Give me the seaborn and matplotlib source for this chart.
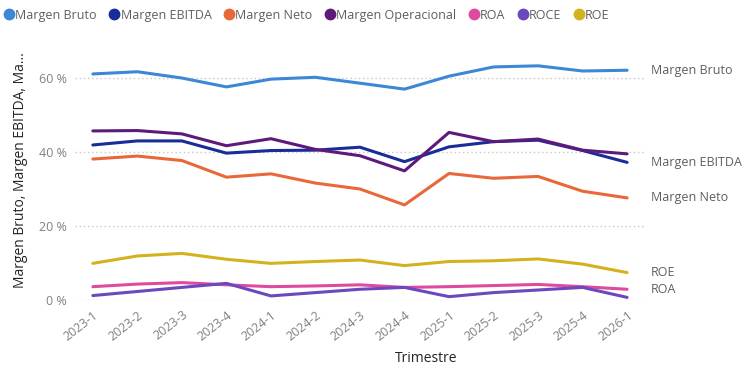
import matplotlib
matplotlib.use("Agg")
import matplotlib.pyplot as plt
from matplotlib.lines import Line2D
import seaborn as sns
import pandas as pd

trimestres = ["2023-1", "2023-2", "2023-3", "2023-4", "2024-1", "2024-2", "2024-3",
              "2024-4", "2025-1", "2025-2", "2025-3", "2025-4", "2026-1"]

margen_bruto = [61.1, 61.7, 60.0, 57.6, 59.7, 60.2, 58.6, 57.0, 60.5, 63.0, 63.3, 61.9, 62.1]
margen_ebitda = [41.9, 43.0, 43.0, 39.7, 40.4, 40.5, 41.3, 37.4, 41.4, 42.8, 43.2, 40.4, 37.2]
margen_neto = [38.1, 38.9, 37.7, 33.2, 34.1, 31.6, 30.0, 25.7, 34.2, 32.9, 33.4, 29.4, 27.6]
margen_operacional = [45.7, 45.8, 44.9, 41.7, 43.6, 40.7, 39.0, 34.9, 45.3, 42.8, 43.5, 40.5, 39.5]
roa = [3.6, 4.3, 4.7, 4.1, 3.6, 3.8, 4.1, 3.4, 3.6, 3.9, 4.2, 3.6, 2.9]
roce = [1.2, 2.3, 3.4, 4.5, 1.1, 2.0, 2.9, 3.4, 0.9, 2.0, 2.7, 3.4, 0.7]
roe = [9.9, 11.9, 12.6, 11.0, 9.9, 10.4, 10.8, 9.3, 10.4, 10.6, 11.1, 9.7, 7.4]

series = {
    "Margen Bruto": margen_bruto,
    "Margen EBITDA": margen_ebitda,
    "Margen Neto": margen_neto,
    "Margen Operacional": margen_operacional,
    "ROA": roa,
    "ROCE": roce,
    "ROE": roe,
}
colores = {
    "Margen Bruto": "#3C87D6",
    "Margen EBITDA": "#1A2C9A",
    "Margen Neto": "#E8683A",
    "Margen Operacional": "#5E1A7A",
    "ROA": "#E04A9E",
    "ROCE": "#6A48BE",
    "ROE": "#D4B21E",
}
etiquetas_finales = ["Margen Bruto", "Margen EBITDA", "Margen Neto", "ROE", "ROA"]

df = pd.DataFrame(
    [(t, nombre, v) for nombre, vals in series.items() for t, v in zip(trimestres, vals)],
    columns=["Trimestre", "Serie", "Valor"],
)

sns.set_theme(style="white")
plt.rcParams["font.family"] = ["Open Sans", "DejaVu Sans"]

fig = plt.figure(figsize=(7.43, 3.71), dpi=100)
ax = fig.add_axes([0.101, 0.1914, 0.767, 0.698])

sns.lineplot(data=df, x="Trimestre", y="Valor", hue="Serie", palette=colores,
             linewidth=2.2, sort=False, legend=False, ax=ax)

ax.set_xlim(-0.4, len(trimestres) - 1 + 0.4)
ax.set_ylim(0, 70)
ax.set_yticks([0, 20, 40, 60])
ax.set_yticklabels([f"{v} %" for v in [0, 20, 40, 60]], color="#808080", fontsize=9)
ax.set_xticks(range(len(trimestres)))
ax.set_xticklabels(trimestres, rotation=38, ha="right", rotation_mode="anchor",
                   color="#808080", fontsize=9)
ax.tick_params(axis="x", length=0, pad=6)
ax.tick_params(axis="y", length=0, pad=6)
ax.yaxis.grid(True, linestyle=(0, (1, 2)), color="#C8C8C8", linewidth=1)
ax.xaxis.grid(False)
for s in ax.spines.values():
    s.set_visible(False)
ax.set_axisbelow(True)

ax.set_xlabel("")
ax.set_ylabel("Margen Bruto, Margen EBITDA, Ma...", fontsize=10, color="#252423", labelpad=8)
fig.text(426 / 743, 1 - 358 / 371, "Trimestre", ha="center", va="center",
         fontsize=10, color="#252423")

for nombre in etiquetas_finales:
    ax.annotate(nombre, xy=(len(trimestres) - 1, series[nombre][-1]),
                xytext=(17, 0), textcoords="offset points", ha="left", va="center",
                fontsize=9, color="#605E5C", annotation_clip=False)

handles = [Line2D([0], [0], marker="o", linestyle="", markersize=7.5,
                  markerfacecolor=colores[n], markeredgecolor=colores[n]) for n in series]
fig.legend(handles, list(series.keys()), loc="upper left", bbox_to_anchor=(-0.008, 1.0),
           ncol=7, frameon=False, fontsize=9, handletextpad=0.0, columnspacing=0.9,
           handlelength=1.0, labelcolor="#605E5C", borderaxespad=0.3)

fig.savefig("out.png", dpi=100)
